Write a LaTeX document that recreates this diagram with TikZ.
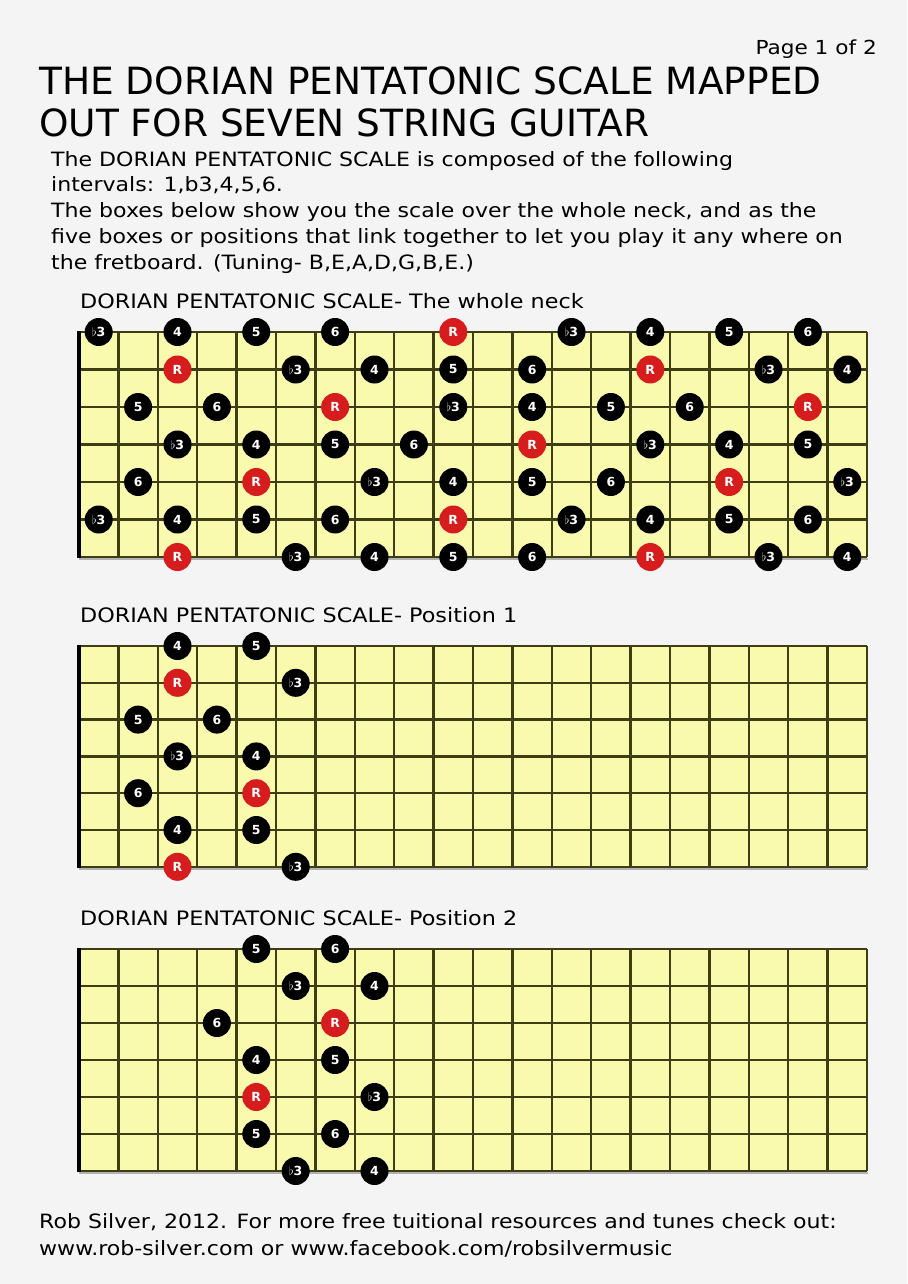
\documentclass[tikz,border=0pt]{standalone}
\usepackage{fontspec}
\setmainfont{DejaVu Sans}
\newfontfamily\widefont{DejaVu Sans}[FakeStretch=1.12]

\definecolor{pagegray}{HTML}{F4F4F4}
\definecolor{boardyellow}{HTML}{FAFAAE}
\definecolor{fretline}{HTML}{3E3E14}
\definecolor{rootred}{HTML}{D61C1C}

% one fretboard: top edge, gap between strings
\newcommand{\fretgrid}[2]{%
  \fill[boardyellow] (79,#1) rectangle (867,{#1+6*#2});
  \draw[gray!60,line width=1.5pt] (79,{#1+6*#2+2}) -- (868,{#1+6*#2+2});
  \foreach \s in {0,...,6}
    \draw[fretline,line width=2.4pt] (79,{#1+\s*#2}) -- (867,{#1+\s*#2});
  \foreach \f in {1,...,20}
    \draw[fretline,line width=2.4pt] ({79+39.4*\f},#1) -- ({79+39.4*\f},{#1+6*#2});
  \draw[line width=4pt] (79,{#1-1}) -- (79,{#1+6*#2+1});
}
% dots: style, name prefix, top, gap, fret/string/label list
\newcommand{\fretdots}[5]{%
  \foreach \f/\s/\lab in {#5}
    \node[#1] (#2-\f-\s) at ({79+39.4*\f-19.7},{#3+\s*#4}) {\lab};
}
\newcommand{\fb}{$\flat$3}

\begin{document}
\begin{tikzpicture}[x=1pt,y=-1pt,
  note/.style={circle,fill=black,text=white,minimum size=28pt,inner sep=0pt,
    font=\bfseries\fontsize{12.5}{12.5}\selectfont},
  root/.style={note,fill=rootred},
  txt/.style={anchor=base west,inner sep=0pt},
  bigtitle/.style={txt,font=\fontsize{37.5}{37.5}\selectfont},
  bodytxt/.style={txt,font=\widefont\fontsize{19.7}{19.7}\selectfont},
  heading/.style={txt,font=\widefont\fontsize{19.9}{19.9}\selectfont},
]
\fill[pagegray] (0,0) rectangle (907,1284);
\useasboundingbox (0,0) rectangle (907,1284);

% header
\node[txt,anchor=base east,font=\widefont\fontsize{19.3}{19.3}\selectfont] (page) at (877,55) {Page 1 of 2};
\node[bigtitle] (title1) at (39,95) {THE DORIAN PENTATONIC SCALE MAPPED};
\node[bigtitle] (title2) at (39,137) {OUT FOR SEVEN STRING GUITAR};
\node[bodytxt] (intro1) at (51,167) {The DORIAN PENTATONIC SCALE is composed of the following};
\node[bodytxt] (intro2) at (51,192) {intervals: 1,b3,4,5,6.};
\node[bodytxt] (intro3) at (51,218) {The boxes below show you the scale over the whole neck, and as the};
\node[bodytxt] (intro4) at (51,243) {five boxes or positions that link together to let you play it any where on};
\node[bodytxt] (intro5) at (51,269) {the fretboard. (Tuning- B,E,A,D,G,B,E.)};

% the whole neck
\node[heading] (headwhole) at (80,308) {DORIAN PENTATONIC SCALE- The whole neck};
\fretgrid{332}{37.5}
\fretdots{note}{w}{332}{37.5}{1/0/\fb,3/0/4,5/0/5,7/0/6,13/0/\fb,15/0/4,17/0/5,19/0/6,
  6/1/\fb,8/1/4,10/1/5,12/1/6,18/1/\fb,20/1/4,
  2/2/5,4/2/6,10/2/\fb,12/2/4,14/2/5,16/2/6,
  3/3/\fb,5/3/4,7/3/5,9/3/6,15/3/\fb,17/3/4,19/3/5,
  2/4/6,8/4/\fb,10/4/4,12/4/5,14/4/6,20/4/\fb,
  1/5/\fb,3/5/4,5/5/5,7/5/6,13/5/\fb,15/5/4,17/5/5,19/5/6,
  6/6/\fb,8/6/4,10/6/5,12/6/6,18/6/\fb,20/6/4}
\fretdots{root}{w}{332}{37.5}{10/0/R,3/1/R,15/1/R,7/2/R,19/2/R,12/3/R,5/4/R,17/4/R,
  10/5/R,3/6/R,15/6/R}

% position 1
\node[heading] (headpos1) at (80,622) {DORIAN PENTATONIC SCALE- Position 1};
\fretgrid{646}{36.8}
\fretdots{note}{a}{646}{36.8}{3/0/4,5/0/5,6/1/\fb,2/2/5,4/2/6,3/3/\fb,5/3/4,
  2/4/6,3/5/4,5/5/5,6/6/\fb}
\fretdots{root}{a}{646}{36.8}{3/1/R,5/4/R,3/6/R}

% position 2
\node[heading] (headpos2) at (80,925) {DORIAN PENTATONIC SCALE- Position 2};
\fretgrid{949}{37}
\fretdots{note}{b}{949}{37}{5/0/5,7/0/6,6/1/\fb,8/1/4,4/2/6,5/3/4,7/3/5,
  8/4/\fb,5/5/5,7/5/6,6/6/\fb,8/6/4}
\fretdots{root}{b}{949}{37}{7/2/R,5/4/R}

% footer
\node[bodytxt] (foot1) at (39,1228) {Rob Silver, 2012. For more free tuitional resources and tunes check out:};
\node[bodytxt] (foot2) at (39,1255) {www.rob-silver.com or www.facebook.com/robsilvermusic};
\end{tikzpicture}
\end{document}
